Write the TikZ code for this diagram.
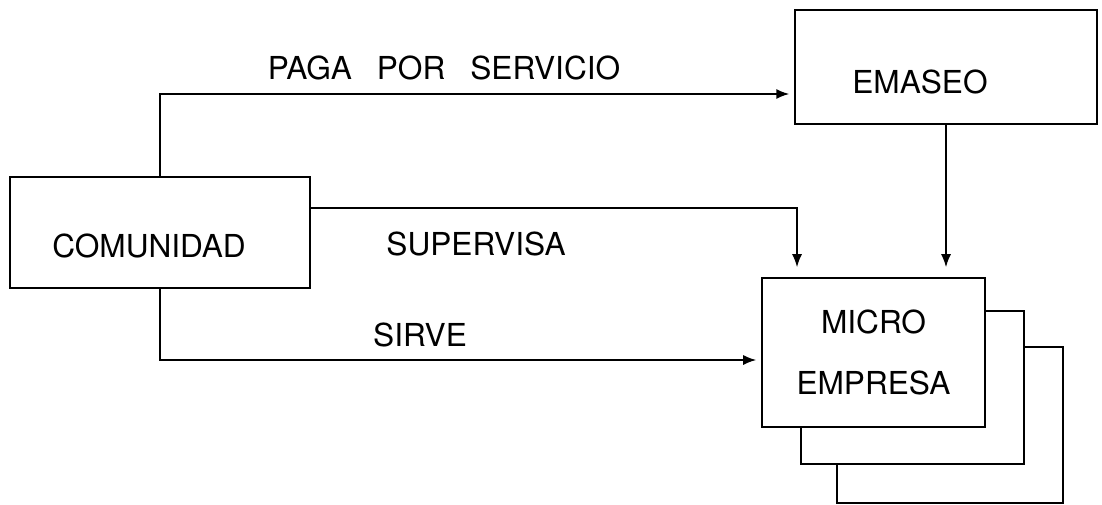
\documentclass[tikz,border=0pt]{standalone}
\usepackage{fontspec}
\setmainfont{TeX Gyre Heros}
\usetikzlibrary{arrows.meta,backgrounds}

\tikzset{
  box/.style={draw, fill=white, line width=0.9pt, inner sep=0pt},
  flow/.style={line width=0.9pt, -{Latex[length=0.26cm,width=0.2cm]}},
}

\begin{document}
\begin{tikzpicture}[x=0.02cm, y=-0.02cm, font=\fontsize{18}{22}\selectfont]
        \useasboundingbox (0,0) rectangle (1102,504);
        % boxes
        \node [box, minimum width=6.0cm, minimum height=2.22cm] (comunidad) at (160,232.5) {};
        \node (comunidadtxt) at (149,246) {COMUNIDAD};
        \node [box, minimum width=6.04cm, minimum height=2.28cm] (emaseo) at (946,67) {};
        \node (emaseotxt) at (920,82) {EMASEO};
        \node [box, minimum width=4.46cm, minimum height=2.98cm, align=center,
               font=\fontsize{18}{35}\selectfont] (micro) at (873.5,352.5) {MICRO\\EMPRESA};
        \begin{scope}[on background layer]
          \draw [box] ([shift={(76,70)}]micro.north west) rectangle ([shift={(77,75)}]micro.south east);
          \draw [box] ([shift={(40,34)}]micro.north west) rectangle ([shift={(38,36)}]micro.south east);
        \end{scope}

        % connectors
        \draw [flow, shorten >=0.1cm] (comunidad.north) |- ([yshift=-0.54cm]emaseo.west);
        \draw [flow, shorten >=0.2cm] (emaseo.south) -- (emaseo.south |- micro.north);
        \draw [flow, shorten >=0.2cm] ([yshift=0.49cm]comunidad.east) -| ([xshift=-1.53cm]micro.north);
        \draw [flow, shorten >=0.1cm] (comunidad.south) |- ([yshift=-0.15cm]micro.west);

        % labels
        \node (paga) at (444,68) {PAGA\hspace{0.5cm}POR\hspace{0.5cm}SERVICIO};
        \node (supervisa) at (476,244) {SUPERVISA};
        \node (sirve) at (420,335) {SIRVE};
\end{tikzpicture}
\end{document}
